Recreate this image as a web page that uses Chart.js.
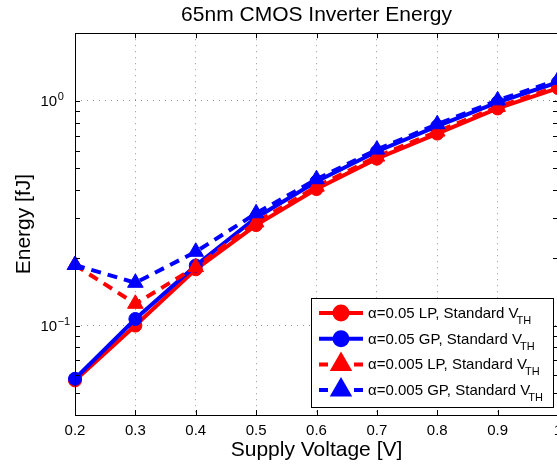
<!DOCTYPE html>
<html lang="en">
<head>
<meta charset="UTF-8">
<title>65nm CMOS Inverter Energy</title>
<script src="https://cdn.jsdelivr.net/npm/chart.js"></script>
<style>
  html, body { margin: 0; padding: 0; background: #fff; overflow: hidden; }
  #wrap { position: relative; width: 570px; height: 466px; }
</style>
</head>
<body>
<div id="wrap"><canvas id="energyChart"></canvas></div>
<script>
// supply voltage points (x) and tick labels
const voltages = [0.2, 0.3, 0.4, 0.5, 0.6, 0.7, 0.8, 0.9, 1.0];
const xTickLabels = ['0.2', '0.3', '0.4', '0.5', '0.6', '0.7', '0.8', '0.9', '1'];

// energy in fJ
const lp05  = [0.057, 0.100, 0.178, 0.280, 0.405, 0.553, 0.715, 0.925, 1.14];
const gp05  = [0.058, 0.107, 0.185, 0.302, 0.438, 0.595, 0.772, 0.985, 1.21];
const lp005 = [0.186, 0.125, 0.182, 0.288, 0.415, 0.565, 0.730, 0.940, 1.16];
const gp005 = [0.186, 0.155, 0.213, 0.316, 0.448, 0.607, 0.787, 1.005, 1.24];

const seriesLabels = [
  'α=0.05 LP, Standard V',
  'α=0.05 GP, Standard V',
  'α=0.005 LP, Standard V',
  'α=0.005 GP, Standard V'
];
const labelSubscript = 'TH';

// log axis ticks
const yMajorTicks = [0.1, 1];
const yTickBase = '10';
const yTickExponents = ['−1', '0'];
const yMinorTicks = [0.04, 0.05, 0.06, 0.07, 0.08, 0.09, 0.2, 0.3, 0.4, 0.5, 0.6, 0.7, 0.8, 0.9, 2];

const FONT = "'Liberation Sans', Arial, Helvetica, sans-serif";
Chart.defaults.font.family = FONT;
Chart.defaults.color = '#000';

function toPoints(values) {
  return voltages.map((v, i) => ({ x: v, y: values[i] }));
}

function makeSet(label, values, color, dashed, idx) {
  return {
    label: label,
    data: toPoints(values),
    borderColor: color,
    backgroundColor: color,
    borderWidth: 4,
    borderDash: dashed ? [10, 7] : [],
    pointStyle: dashed ? 'triangle' : 'circle',
    pointRadius: dashed ? 9 : 6.5,
    pointBorderWidth: 1,
    pointBackgroundColor: color,
    pointBorderColor: color,
    tension: 0,
    clip: false,
    order: 3 - idx // later series drawn on top, like matlab
  };
}

// box, inward ticks and the 10^n labels
const axesBox = {
  id: 'axesBox',
  afterDraw(chart) {
    const { ctx, chartArea: a, scales } = chart;
    const xs = scales.x, ys = scales.y;
    ctx.save();
    ctx.strokeStyle = '#000';
    ctx.lineWidth = 1;
    ctx.beginPath();
    voltages.forEach(v => {
      const px = Math.round(xs.getPixelForValue(v)) + 0.5;
      ctx.moveTo(px, a.bottom); ctx.lineTo(px, a.bottom - 5);
      ctx.moveTo(px, a.top); ctx.lineTo(px, a.top + 5);
    });
    yMajorTicks.concat(yMinorTicks).forEach(v => {
      const py = Math.round(ys.getPixelForValue(v)) + 0.5;
      ctx.moveTo(a.left, py); ctx.lineTo(a.left + 5, py);
      ctx.moveTo(a.right, py); ctx.lineTo(a.right - 5, py);
    });
    ctx.stroke();
    ctx.strokeRect(Math.round(a.left) + 0.5, Math.round(a.top) + 0.5,
                   Math.round(a.width), Math.round(a.height));

    ctx.fillStyle = '#000';
    ctx.textBaseline = 'middle';
    ctx.textAlign = 'left';
    yMajorTicks.forEach((v, i) => {
      const py = ys.getPixelForValue(v);
      ctx.font = '15px ' + FONT;
      ctx.fillText(yTickBase, 40.5, py + 1);
      const w = ctx.measureText(yTickBase).width;
      ctx.font = '11px ' + FONT;
      ctx.fillText(yTickExponents[i], 40.5 + w + 0.5, py - 4);
    });
    ctx.restore();
  }
};

// legend box in the lower right corner
const cornerLegend = {
  id: 'cornerLegend',
  afterDraw(chart) {
    const { ctx } = chart;
    const bx = 311.5, by = 298.5, bw = 242, bh = 109;
    ctx.save();
    ctx.fillStyle = '#fff';
    ctx.fillRect(bx, by, bw, bh);
    ctx.strokeStyle = '#000';
    ctx.lineWidth = 1;
    ctx.strokeRect(bx, by, bw, bh);
    chart.data.datasets.forEach((ds, i) => {
      const y = 313 + i * 25.7;
      ctx.strokeStyle = ds.borderColor;
      ctx.fillStyle = ds.borderColor;
      ctx.lineWidth = 4;
      ctx.beginPath();
      if (ds.borderDash.length) {
        ctx.moveTo(319, y); ctx.lineTo(328, y);
        ctx.moveTo(354, y); ctx.lineTo(363, y);
      } else {
        ctx.moveTo(319, y); ctx.lineTo(363, y);
      }
      ctx.stroke();
      Chart.helpers.drawPoint(ctx, {
        pointStyle: ds.pointStyle, radius: ds.pointRadius, borderWidth: 1, rotation: 0
      }, 341, y);
      ctx.fillStyle = '#000';
      ctx.textAlign = 'left';
      ctx.textBaseline = 'alphabetic';
      ctx.font = '15px ' + FONT;
      ctx.fillText(ds.label, 368, y + 5);
      const w = ctx.measureText(ds.label).width;
      ctx.font = '11px ' + FONT;
      ctx.fillText(labelSubscript, 368 + w - 2, y + 11);
    });
    ctx.restore();
  }
};

const gridDots = 'rgba(0,0,0,0.42)';

new Chart(document.getElementById('energyChart'), {
  type: 'line',
  data: {
    datasets: [
      makeSet(seriesLabels[0], lp05, '#ff0000', false, 0),
      makeSet(seriesLabels[1], gp05, '#0000ff', false, 1),
      makeSet(seriesLabels[2], lp005, '#ff0000', true, 2),
      makeSet(seriesLabels[3], gp005, '#0000ff', true, 3)
    ]
  },
  options: {
    responsive: true,
    maintainAspectRatio: false,
    animation: false,
    events: [],
    layout: { padding: { left: 0, right: 12, top: 0, bottom: 0 } },
    scales: {
      x: {
        type: 'linear',
        min: 0.2,
        max: 1.0,
        afterBuildTicks: s => { s.ticks = voltages.map(v => ({ value: v })); },
        afterFit: s => { s.height = 51; },
        ticks: {
          autoSkip: false,
          maxRotation: 0,
          padding: 7,
          font: { size: 15 },
          callback: (v, i) => xTickLabels[i]
        },
        grid: { color: gridDots, lineWidth: 1, drawTicks: false },
        border: { display: false, dash: [1, 5] },
        title: {
          display: true,
          text: 'Supply Voltage [V]',
          font: { size: 21 },
          padding: { top: 0, bottom: 3 }
        }
      },
      y: {
        type: 'logarithmic',
        min: 0.04,
        max: 2,
        afterBuildTicks: s => {
          s.ticks = yMinorTicks.concat(yMajorTicks).sort((a, b) => a - b).map(v => ({ value: v }));
        },
        afterFit: s => { s.width = 75; },
        ticks: { display: false },
        grid: {
          drawTicks: false,
          lineWidth: 1,
          color: c => (c.tick && yMajorTicks.includes(c.tick.value)) ? gridDots : 'rgba(0,0,0,0)'
        },
        border: { display: false, dash: [1, 5] },
        title: {
          display: true,
          text: 'Energy [fJ]',
          font: { size: 21 },
          padding: { top: 12, bottom: 0 }
        }
      }
    },
    plugins: {
      legend: { display: false },
      tooltip: { enabled: false },
      title: {
        display: true,
        text: '65nm CMOS Inverter Energy',
        font: { size: 21, weight: 'normal' },
        color: '#000',
        fullSize: false,
        padding: { top: 3, bottom: 5 }
      }
    }
  },
  plugins: [axesBox, cornerLegend]
});
</script>
</body>
</html>
